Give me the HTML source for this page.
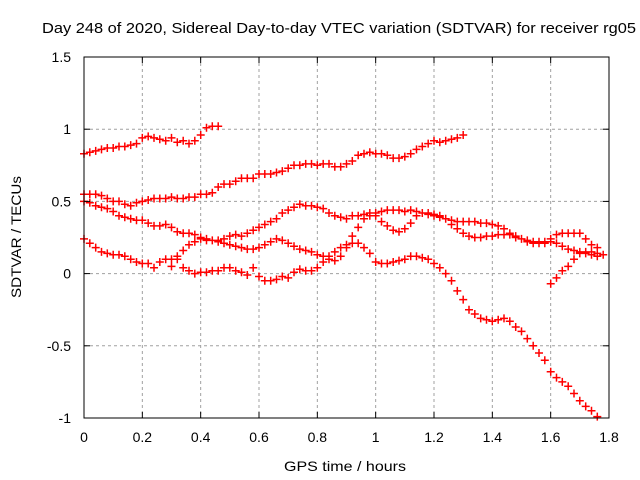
<!DOCTYPE html>
<html><head><meta charset="utf-8"><style>
html,body{margin:0;padding:0;background:#fff;}
svg{display:block;font-family:"Liberation Sans",sans-serif;}
</style></head><body>
<svg id="chart" width="640" height="480" viewBox="0 0 640 480">
<text x="339" y="33" font-size="15" text-anchor="middle" textLength="594" lengthAdjust="spacingAndGlyphs">Day 248 of 2020, Sidereal Day-to-day VTEC variation (SDTVAR) for receiver rg05</text>
<text transform="translate(21,237) rotate(-90)" font-size="14" text-anchor="middle" textLength="122" lengthAdjust="spacingAndGlyphs">SDTVAR / TECUs</text>
<text x="345" y="471" font-size="14" text-anchor="middle" textLength="122" lengthAdjust="spacingAndGlyphs">GPS time / hours</text>
<g id="grid"></g>
<g id="marks"></g>
<rect x="84" y="57" width="525" height="361" fill="none" stroke="#000" stroke-width="1"/>
<g id="ticks"></g>
</svg>
<script>
const xTicks=[0,0.2,0.4,0.6,0.8,1,1.2,1.4,1.6,1.8];
const xTickLabels=["0","0.2","0.4","0.6","0.8","1","1.2","1.4","1.6","1.8"];
const yTicks=[-1,-0.5,0,0.5,1,1.5];
const yTickLabels=["-1","-0.5","0","0.5","1","1.5"];
const s1Start=0;
const s1=[0.83,0.84,0.85,0.86,0.87,0.87,0.88,0.88,0.89,0.90,0.94,0.95,0.94,0.93,0.92,0.94,0.91,0.92,0.90,0.92,0.96,1.01,1.02,1.02];
const s2Start=0;
const s2=[0.55,0.55,0.55,0.54,0.52,0.50,0.50,0.48,0.47,0.49,0.50,0.51,0.52,0.52,0.52,0.53,0.52,0.52,0.53,0.53,0.55,0.55,0.56,0.60,0.62,0.62,0.64,0.66,0.66,0.66,0.69,0.69,0.69,0.70,0.71,0.73,0.75,0.75,0.76,0.76,0.75,0.76,0.76,0.74,0.74,0.76,0.78,0.82,0.83,0.84,0.83,0.83,0.82,0.80,0.80,0.81,0.83,0.86,0.88,0.90,0.92,0.91,0.92,0.93,0.94,0.96];
const s3Start=0;
const s3=[0.50,0.49,0.47,0.46,0.45,0.43,0.40,0.39,0.38,0.37,0.37,0.35,0.33,0.33,0.34,0.32,0.29,0.28,0.28,0.27,0.25,0.24,0.23,0.22,0.21,0.20,0.19,0.18,0.17,0.17,0.18,0.20,0.22,0.24,0.23,0.21,0.19,0.17,0.16,0.15,0.13,0.12,0.10,0.09,0.12,0.18,0.26,0.32,0.38,0.40,0.40,0.36,0.33,0.30,0.29,0.31,0.35,0.40,0.42,0.42,0.41,0.40,0.38,0.34,0.31,0.28,0.26,0.25,0.25,0.26,0.26,0.27,0.27,0.27,0.25,0.24,0.22,0.21,0.21,0.21,0.22,0.21,0.19,0.17,0.16,0.15,0.14,0.13,0.12];
const s4Start=0;
const s4=[0.24,0.21,0.18,0.15,0.14,0.13,0.13,0.12,0.10,0.08,0.07,0.07,0.04,0.08,0.10,0.10,0.12,0.16,0.20,0.22,0.24,0.23,0.23,0.23,0.24,0.26,0.27,0.26,0.28,0.30,0.32,0.34,0.36,0.38,0.42,0.44,0.46,0.48,0.47,0.47,0.46,0.45,0.42,0.40,0.39,0.38,0.40,0.40,0.41,0.42,0.42,0.43,0.44,0.44,0.44,0.43,0.44,0.43,0.42,0.41,0.40,0.39,0.38,0.37,0.36,0.36,0.36,0.36,0.35,0.35,0.34,0.33,0.31,0.28,0.26,0.24,0.23,0.22,0.22,0.22,0.24,0.27,0.28,0.28,0.28,0.28,0.24,0.20,0.18];
const s5Start=0.30;
const s5=[0.05,0.10,0.04,0.02,0.00,0.01,0.01,0.02,0.02,0.04,0.04,0.02,0.01,-0.01,0.04,-0.02,-0.05,-0.05,-0.04,-0.02,-0.03,0.01,0.03,0.02,0.02,0.04,0.08,0.12,0.15,0.18,0.20,0.21,0.21,0.18,0.14,0.08,0.07,0.07,0.08,0.09,0.10,0.12,0.12,0.11,0.10,0.07,0.04,0.00,-0.05,-0.12,-0.18,-0.25,-0.28,-0.31,-0.32,-0.33,-0.32,-0.31,-0.33,-0.37,-0.40,-0.45,-0.50,-0.55,-0.60,-0.68,-0.72,-0.75,-0.78,-0.83,-0.88,-0.92,-0.95,-0.99];
const s6Start=1.60;
const s6=[-0.07,-0.03,0.02,0.05,0.10,0.14,0.15,0.15,0.14,0.13];
const xStep=0.02;

const NS="http://www.w3.org/2000/svg";
const X0=84,X1=609,Y0=418,Y1=57;
function xs(v){return X0+(v-0)/(1.8-0)*(X1-X0);}
function ys(v){return Y0-(v-(-1))/(1.5-(-1))*(Y0-Y1);}
function mk(tag,attrs,parent){const e=document.createElementNS(NS,tag);for(const k in attrs)e.setAttribute(k,attrs[k]);parent.appendChild(e);return e;}
const grid=document.getElementById('grid'),ticks=document.getElementById('ticks'),marks=document.getElementById('marks');
xTicks.forEach((t,i)=>{
  const x=xs(t);
  if(i>0&&i<xTicks.length-1){const g=mk('line',{x1:x,x2:x,y1:Y1,y2:Y0,stroke:'#a0a0a0','stroke-dasharray':'3,3'},grid);
  
  }
  const a=mk('line',{x1:x,x2:x,y1:Y0,y2:Y0-6,stroke:'#000'},ticks);
  
  
  const b=mk('line',{x1:x,x2:x,y1:Y1,y2:Y1+6,stroke:'#000'},ticks);
  
  
  const l=mk('text',{x:x,y:442,'font-size':'14','text-anchor':'middle'},ticks);
  l.textContent=xTickLabels[i];
  
  
});
yTicks.forEach((t,i)=>{
  const y=ys(t);
  if(i>0&&i<yTicks.length-1){const g=mk('line',{x1:X0,x2:X1,y1:y,y2:y,stroke:'#a0a0a0','stroke-dasharray':'3,3'},grid);
  
  }
  const a=mk('line',{x1:X0,x2:X0+6,y1:y,y2:y,stroke:'#000'},ticks);
  
  
  const b=mk('line',{x1:X1,x2:X1-6,y1:y,y2:y,stroke:'#000'},ticks);
  
  
  const l=mk('text',{x:71,y:y+5,'font-size':'14','text-anchor':'end'},ticks);
  l.textContent=yTickLabels[i];
  
  
});
const series=[[s1Start,s1],[s2Start,s2],[s3Start,s3],[s4Start,s4],[s5Start,s5],[s6Start,s6]];
let d='';
series.forEach(([st,arr])=>{
  arr.forEach((v,i)=>{
    const x=xs(st+i*xStep),y=ys(v);
    d+=`M${(x-4).toFixed(1)} ${y.toFixed(1)}h8M${x.toFixed(1)} ${(y-4).toFixed(1)}v8`;
  });
});
const p=mk('path',{d:d,stroke:'#ff0000','stroke-width':'1.5',fill:'none'},marks);


</script>
</body></html>
